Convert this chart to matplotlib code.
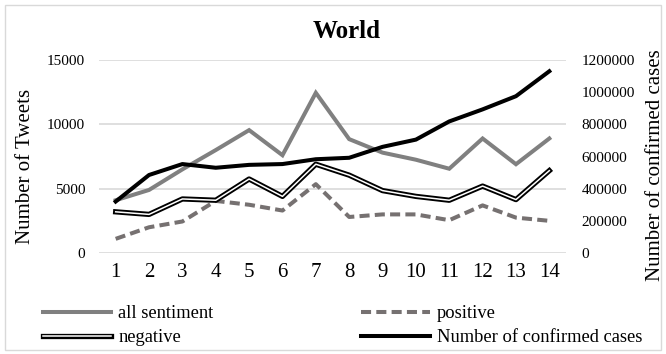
import matplotlib
matplotlib.use('Agg')
import matplotlib.pyplot as plt
import matplotlib.patheffects as pe
from matplotlib.patches import Rectangle

plt.rcParams['font.family'] = ['Liberation Serif', 'DejaVu Serif']

# data
days = list(range(1, 15))
all_sentiment = [4100, 4900, 6500, 8000, 9550, 7600, 12450, 8850, 7800, 7250, 6550, 8900, 6900, 8900]
positive = [1100, 2000, 2450, 4050, 3750, 3300, 5350, 2800, 3000, 3000, 2550, 3700, 2750, 2500]
negative = [3200, 3000, 4200, 4100, 5750, 4400, 6900, 6050, 4850, 4400, 4100, 5200, 4150, 6400]
confirmed = [320000, 485000, 553000, 530000, 548000, 553000, 583000, 592000,
             660000, 705000, 818000, 893000, 975000, 1130000]
left_ticks = [0, 5000, 10000, 15000]
right_ticks = [0, 200000, 400000, 600000, 800000, 1000000, 1200000]

W, H = 666, 354
fig = plt.figure(figsize=(W / 100, H / 100), dpi=100)

# chart border
fig.patches.append(Rectangle((5 / W, 4 / H), 656 / W, 345 / H, transform=fig.transFigure,
                             fill=False, edgecolor='#d9d9d9', linewidth=1.0))

ax = fig.add_axes([99 / W, 1 - 253 / H, 467 / W, 193 / H])
ax2 = ax.twinx()

ax.plot(days, all_sentiment, color='#808080', linewidth=2.9, label='all sentiment',
        solid_joinstyle='miter')
ax.plot(days, positive, color='#767171', linewidth=2.9, linestyle=(0, (2.5, 1.3)),
        label='positive')
ax.plot(days, negative, color='white', linewidth=1.1, label='negative',
        path_effects=[pe.Stroke(linewidth=3.8, foreground='black'), pe.Normal()])
ax2.plot(days, confirmed, color='black', linewidth=2.9, label='Number of confirmed cases')

ax.set_xlim(0.5, 14.5)
ax.set_ylim(0, 15000)
ax.set_yticks(left_ticks)
ax.set_yticklabels([str(v) for v in left_ticks])
ax.set_xticks(days)
ax2.set_ylim(0, 1200000)
ax2.set_yticks(right_ticks)
ax2.set_yticklabels([str(v) for v in right_ticks])

ax.grid(axis='y', color='#d9d9d9', linewidth=1.2)
ax.set_axisbelow(True)
for a in (ax, ax2):
    for s in a.spines.values():
        s.set_visible(False)
ax.tick_params(axis='y', length=0, pad=10, labelsize=11)
ax.tick_params(axis='x', length=0, pad=7, labelsize=15)
ax2.tick_params(axis='y', length=0, pad=11, labelsize=11)

fig.text(347 / W, 1 - 31 / H, 'World', ha='center', va='center', fontsize=18, weight='bold')
fig.text(26 / W, 1 - 166 / H, 'Number of Tweets', ha='center', va='center', rotation=90, fontsize=15)
fig.text(655 / W, 1 - 165 / H, 'Number of confirmed cases', ha='center', va='center',
         rotation=90, fontsize=15)

h1, l1 = ax.get_legend_handles_labels()
h2, l2 = ax2.get_legend_handles_labels()
handles = [h1[0], h1[2], h1[1], h2[0]]
labels = [l1[0], l1[2], l1[1], l2[0]]
fig.legend(handles, labels, ncol=2, loc='upper left', bbox_to_anchor=(43 / W, 1 - 305 / H),
           frameon=False, fontsize=13.3, handlelength=3.7, handletextpad=0.38,
           columnspacing=8.0, labelspacing=0.38, borderpad=0, borderaxespad=0)

fig.savefig('out.png', dpi=100)
